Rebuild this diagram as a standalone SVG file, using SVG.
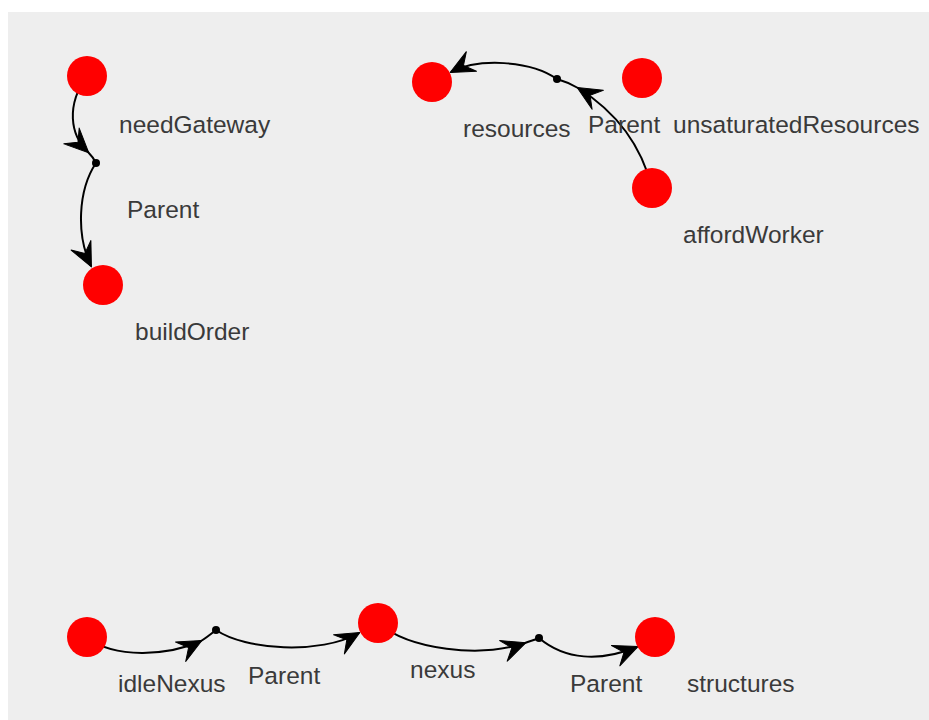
<svg xmlns="http://www.w3.org/2000/svg" width="929" height="720" viewBox="0 0 929 720">
  <style>
    .node { fill: #ff0000; }
    .lbl { font-family: "Liberation Sans", Arial, sans-serif; font-size: 24.5px; fill: #3a3a3a; }
    .edge { fill: none; stroke: #000000; stroke-width: 2; }
    .mid { marker-mid: url(#arrow); }
    .end { marker-end: url(#arrow); }
    .junction { fill: #000000; }
  </style>
  <defs>
    <marker id="arrow" markerUnits="userSpaceOnUse" viewBox="-30 -15 32 30" refX="0" refY="0" markerWidth="32" markerHeight="30" orient="auto" overflow="visible">
      <path d="M1,0 L-23,-11 L-14,0 L-23,11 Z" fill="#000000" stroke="#000000" stroke-width="1" stroke-linejoin="round"/>
    </marker>
  </defs>
  <rect x="0" y="0" width="929" height="720" fill="#ffffff"/>
  <rect x="8" y="12" width="921" height="708" fill="#eeeeee"/>

  <g id="connectors">
    <!-- needGateway -> buildOrder -->
    <path class="edge mid" d="M87,76 C66,105 70,135 88,152 C91,155 94,159 96,163"/>
    <path class="edge end" d="M96,163 C78,190 76,235 91,266"/>
    <circle class="junction" cx="96" cy="163" r="4"/>
    <!-- affordWorker -> resources -->
    <path class="edge mid" d="M652,188 C640,140 610,108 578,88 C571,84 564,81 557,79"/>
    <path class="edge end" d="M557,79 C530,60 478,58 451,72"/>
    <circle class="junction" cx="557" cy="79" r="4"/>
    <!-- idleNexus -> nexus -->
    <path class="edge mid" d="M87,637 C115,660 170,655 201,641 C206,638 211,634 216,630"/>
    <path class="edge end" d="M216,630 C245,650 320,655 359,633"/>
    <circle class="junction" cx="216" cy="630" r="4"/>
    <!-- nexus -> structures -->
    <path class="edge mid" d="M378,623 C410,650 480,658 525,643 C530,641 535,640 539,638"/>
    <path class="edge end" d="M539,638 C565,660 600,662 637,647"/>
    <circle class="junction" cx="539" cy="638" r="4"/>
  </g>

  <g id="needGateway">
    <circle class="node" cx="87" cy="76" r="20"/>
    <text class="lbl" x="119" y="133">needGateway</text>
  </g>
  <g id="buildOrder">
    <circle class="node" cx="103" cy="285" r="20"/>
    <text class="lbl" x="135" y="340">buildOrder</text>
  </g>
  <g id="parent1-label">
    <text class="lbl" x="127" y="218">Parent</text>
  </g>

  <g id="resources">
    <circle class="node" cx="432" cy="82" r="20"/>
    <text class="lbl" x="463" y="137">resources</text>
  </g>
  <g id="unsaturatedResources">
    <circle class="node" cx="642" cy="78" r="20"/>
    <text class="lbl" x="673" y="133">unsaturatedResources</text>
  </g>
  <g id="affordWorker">
    <circle class="node" cx="652" cy="188" r="20"/>
    <text class="lbl" x="683" y="243">affordWorker</text>
  </g>
  <g id="parent2-label">
    <text class="lbl" x="588" y="133">Parent</text>
  </g>

  <g id="idleNexus">
    <circle class="node" cx="87" cy="637" r="20"/>
    <text class="lbl" x="118" y="692">idleNexus</text>
  </g>
  <g id="nexus">
    <circle class="node" cx="378" cy="623" r="20"/>
    <text class="lbl" x="410" y="678">nexus</text>
  </g>
  <g id="structures">
    <circle class="node" cx="655" cy="637" r="20"/>
    <text class="lbl" x="687" y="692">structures</text>
  </g>
  <g id="parent3-label">
    <text class="lbl" x="248" y="684">Parent</text>
  </g>
  <g id="parent4-label">
    <text class="lbl" x="570" y="692">Parent</text>
  </g>
</svg>
